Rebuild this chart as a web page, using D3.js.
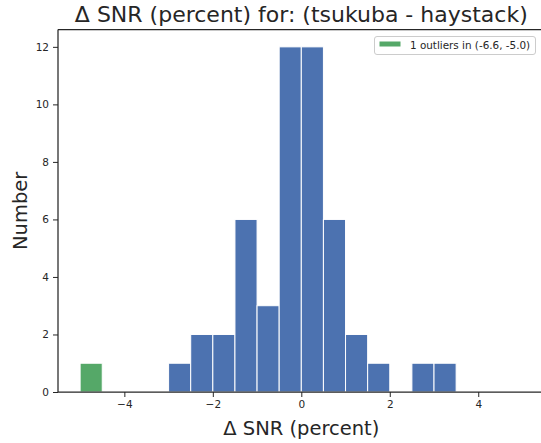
<!DOCTYPE html>
<html><head><meta charset="utf-8">
<script src="https://d3js.org/d3.v7.min.js"></script>
<style>body{margin:0;background:#fff}svg{display:block;font-family:"DejaVu Sans",sans-serif}</style>
</head><body><svg id="c" width="541" height="443"></svg>
<script>
const binStarts = [-3.0,-2.5,-2.0,-1.5,-1.0,-0.5,0.0,0.5,1.0,1.5,2.0,2.5,3.0];
const binEnds   = [-2.5,-2.0,-1.5,-1.0,-0.5,0.0,0.5,1.0,1.5,2.0,2.5,3.0,3.5];
const counts    = [1,2,2,6,3,12,12,6,2,1,0,1,1];
const outlierStart = [-5.0];
const outlierEnd = [-4.5];
const outlierCount = [1];
const xTicks = [-4,-2,0,2,4];
const yTicks = [0,2,4,6,8,10,12];
const legendLabel = "1 outliers in (-6.6, -5.0)";

const svg = d3.select("#c");
const L=58, R=544.6, T=29.6, B=392;
const x = d3.scaleLinear().domain([-5.5,5.5]).range([L,R]);
const y = d3.scaleLinear().domain([0,12.6]).range([B,T]);
const txt="#262626";

const bars = binStarts.map((s,i)=>({s,e:binEnds[i],c:counts[i]})).filter(d=>d.c>0);
svg.append("g").selectAll("rect").data(bars).join("rect")
  .attr("x",d=>x(d.s)).attr("width",d=>x(d.e)-x(d.s))
  .attr("y",d=>y(d.c)).attr("height",d=>y(0)-y(d.c))
  .attr("fill","#4c72b0").attr("stroke","#ffffff").attr("stroke-width",1);
svg.append("g").selectAll("rect").data(outlierStart.map((s,i)=>({s,e:outlierEnd[i],c:outlierCount[i]}))).join("rect")
  .attr("x",d=>x(d.s)).attr("width",d=>x(d.e)-x(d.s))
  .attr("y",d=>y(d.c)).attr("height",d=>y(0)-y(d.c))
  .attr("fill","#55a868").attr("stroke","#ffffff").attr("stroke-width",1);

const xa = svg.append("g").attr("transform",`translate(0,${B})`)
  .call(d3.axisBottom(x).tickValues(xTicks).tickSize(5).tickPadding(4).tickFormat(d=>d<0?"\u2212"+Math.abs(d):d));
const ya = svg.append("g").attr("transform",`translate(${L},0)`)
  .call(d3.axisLeft(y).tickValues(yTicks).tickSize(5).tickPadding(4));
[xa,ya].forEach(a=>{
  a.select(".domain").remove();
  a.selectAll("line").attr("stroke",txt).attr("stroke-width",1);
  a.selectAll("text").attr("fill",txt).style("font-size","10.5px").style("font-family","DejaVu Sans");
});
// spines: left, top, bottom
svg.append("line").attr("x1",L).attr("x2",L).attr("y1",T).attr("y2",B).attr("stroke",txt).attr("stroke-width",1.25);
svg.append("line").attr("x1",L).attr("x2",R).attr("y1",T).attr("y2",T).attr("stroke",txt).attr("stroke-width",1.25);
svg.append("line").attr("x1",L).attr("x2",R).attr("y1",B).attr("y2",B).attr("stroke",txt).attr("stroke-width",1.25);

const cx = (L+R)/2;
svg.append("text").attr("x",cx).attr("y",22).attr("text-anchor","middle")
  .attr("fill",txt).style("font-size","22px").text("\u0394 SNR (percent) for: (tsukuba - haystack)");
svg.append("text").attr("x",cx).attr("y",435).attr("text-anchor","middle")
  .attr("fill",txt).style("font-size","19.5px").text("\u0394 SNR (percent)");
svg.append("text").attr("transform",`translate(27,${(T+B)/2}) rotate(-90)`).attr("text-anchor","middle")
  .attr("fill",txt).style("font-size","19.5px").text("Number");

// legend
const lg = svg.append("g");
lg.append("rect").attr("x",374.5).attr("y",36.5).attr("width",161).attr("height",18).attr("rx",2.5)
  .attr("fill","#ffffff").attr("fill-opacity",0.8).attr("stroke","#cccccc").attr("stroke-width",1);
lg.append("rect").attr("x",379.5).attr("y",41.5).attr("width",21).attr("height",5).attr("fill","#55a868");
lg.append("text").attr("x",410).attr("y",48.7).attr("fill",txt).style("font-size","10.4px").text(legendLabel);
</script></body></html>
